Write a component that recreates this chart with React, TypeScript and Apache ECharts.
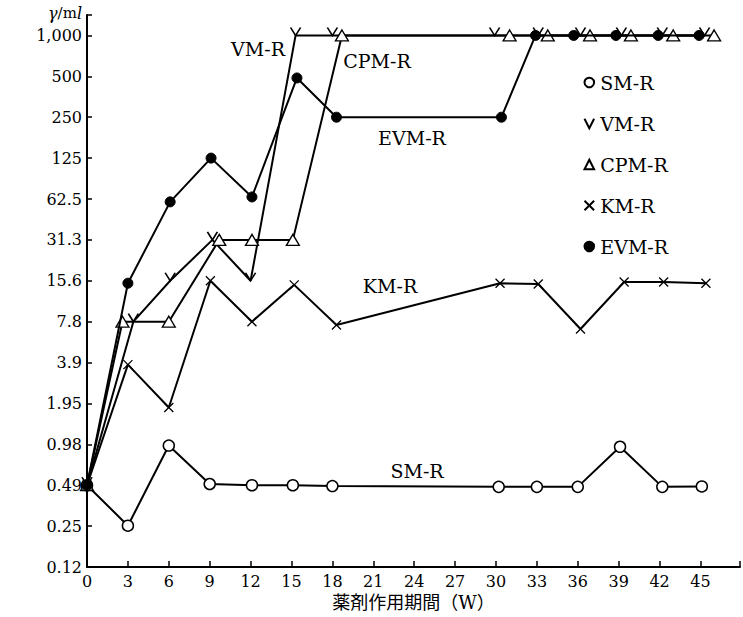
import React, { useEffect, useRef } from "react";
import * as echarts from "echarts";

// Doubling scale: index 0..13 on the y axis
const yTickLabels = ["0.12", "0.25", "0.49", "0.98", "1.95", "3.9", "7.8", "15.6", "31.3", "62.5", "125", "250", "500", "1,000"];

const seriesNames = ["SM-R", "VM-R", "CPM-R", "KM-R", "EVM-R"];

// weeks (x) and level index on the doubling scale (y)
const smWeeks = [0, 3, 6, 9, 12.1, 15.1, 18, 30.2, 33, 36, 39.1, 42.2, 45.1];
const smLevels = [2, 1.01, 2.97, 2.03, 2.0, 2.0, 1.98, 1.96, 1.96, 1.96, 2.94, 1.96, 1.97];

const vmWeeks = [0, 3.4, 6.1, 9.2, 12, 15.3, 18, 29.9, 33.1, 36.2, 39.2, 42.2, 45.3];
const vmLevels = [2, 6, 7, 8, 7, 13, 13, 13, 13, 13, 13, 13, 13];

const cpmWeeks = [0, 2.6, 6, 9.7, 12.1, 15.1, 18.7, 31, 33.8, 36.9, 39.9, 43, 46];
const cpmLevels = [2, 6, 6, 8, 8, 8, 13, 13, 13, 13, 13, 13, 13];

const kmWeeks = [0, 3.0, 6.0, 9.05, 12.1, 15.2, 18.3, 30.3, 33.1, 36.2, 39.4, 42.3, 45.4];
const kmLevels = [2, 4.95, 3.9, 7, 6, 6.9, 5.92, 6.94, 6.92, 5.82, 6.97, 6.97, 6.94];

const evmWeeks = [0, 3, 6.1, 9.1, 12.1, 15.4, 18.3, 30.4, 32.9, 35.7, 38.8, 41.9, 44.9];
const evmLevels = [2, 6.94, 8.93, 10, 9.05, 11.96, 11, 11, 13, 13, 13, 13, 13];

const pair = (xs: number[], ys: number[]) => xs.map((x, i) => [x, ys[i]]);

const SERIF = "'DejaVu Serif', 'Liberation Serif', 'Noto Sans CJK JP', serif";

export default function App() {
  const ref = useRef<HTMLDivElement>(null);
  useEffect(() => {
    if (!ref.current) return;
    const chart = echarts.init(ref.current, null, { renderer: "svg" });
    const baseLine = { color: "#000", width: 2 };
    const option: any = {
      animation: false,
      backgroundColor: "#fff",
      grid: { left: 87, right: 0, top: 15, bottom: 50 },
      xAxis: {
        type: "value",
        min: 0,
        max: 47.9,
        interval: 3,
        splitLine: { show: false },
        axisLine: { lineStyle: { color: "#000", width: 2 } },
        axisTick: { inside: true, length: 6, lineStyle: { color: "#000", width: 1.5 } },
        axisLabel: {
          color: "#000",
          fontFamily: SERIF,
          fontSize: 16,
          margin: 6,
          formatter: (v: number) => (v <= 45 ? String(v) : ""),
        },
        name: "薬剤作用期間（W）",
        nameLocation: "middle",
        nameGap: 25,
        nameTextStyle: { color: "#000", fontFamily: SERIF, fontSize: 18 },
      },
      yAxis: {
        type: "value",
        min: 0,
        max: 13.5,
        interval: 1,
        splitLine: { show: false },
        axisLine: { show: true, lineStyle: { color: "#000", width: 2 } },
        axisTick: { show: true, inside: true, length: 5, lineStyle: { color: "#000", width: 1.5 } },
        axisLabel: {
          color: "#000",
          fontFamily: SERIF,
          fontSize: 16,
          margin: 5,
          formatter: (v: number) => (Number.isInteger(v) && yTickLabels[v] !== undefined ? yTickLabels[v] : ""),
        },
      },
      legend: {
        orient: "vertical",
        left: 577,
        top: 67,
        itemWidth: 12,
        itemHeight: 12,
        itemGap: 20,
        itemTextGap: 8,
        selectedMode: false,
        lineStyle: { width: 0, color: "rgba(0,0,0,0)" },
        textStyle: { color: "#000", fontFamily: SERIF, fontSize: 19, lineHeight: 21 },
        data: seriesNames,
      },
      graphic: [
        {
          type: "text",
          x: 82,
          y: 13,
          style: {
            text: "{i|γ}/m{i|l}",
            textAlign: "right",
            textVerticalAlign: "middle",
            fill: "#000",
            font: `15px ${SERIF}`,
            rich: { i: { fontStyle: "italic", fontSize: 16, fontFamily: SERIF } },
          },
        },
        { type: "text", x: 258, y: 49, style: { text: "VM-R", textAlign: "center", textVerticalAlign: "middle", fill: "#000", font: `19px ${SERIF}` } },
        { type: "text", x: 377, y: 61, style: { text: "CPM-R", textAlign: "center", textVerticalAlign: "middle", fill: "#000", font: `19px ${SERIF}` } },
        { type: "text", x: 412, y: 138, style: { text: "EVM-R", textAlign: "center", textVerticalAlign: "middle", fill: "#000", font: `19px ${SERIF}` } },
        { type: "text", x: 390, y: 286, style: { text: "KM-R", textAlign: "center", textVerticalAlign: "middle", fill: "#000", font: `19px ${SERIF}` } },
        { type: "text", x: 417, y: 471, style: { text: "SM-R", textAlign: "center", textVerticalAlign: "middle", fill: "#000", font: `19px ${SERIF}` } },
      ],
      series: [
        {
          name: "SM-R",
          type: "line",
          data: pair(smWeeks, smLevels),
          symbol: "circle",
          symbolSize: 11,
          showAllSymbol: true,
          lineStyle: baseLine,
          itemStyle: { color: "#fff", borderColor: "#000", borderWidth: 1.5 },
          z: 2,
        },
        {
          name: "VM-R",
          type: "line",
          data: pair(vmWeeks, vmLevels),
          symbol: "path://M0,0L5,8L10,0",
          symbolSize: [10, 8],
          symbolOffset: [0, -4],
          showAllSymbol: true,
          lineStyle: baseLine,
          itemStyle: { color: "none", borderColor: "#000", borderWidth: 1.5 },
          z: 3,
        },
        {
          name: "CPM-R",
          type: "line",
          data: pair(cpmWeeks, cpmLevels),
          symbol: "triangle",
          symbolSize: [13, 11],
          showAllSymbol: true,
          lineStyle: baseLine,
          itemStyle: { color: "#fff", borderColor: "#000", borderWidth: 1.3 },
          z: 4,
        },
        {
          name: "KM-R",
          type: "line",
          data: pair(kmWeeks, kmLevels),
          symbol: "path://M0,0L10,10M10,0L0,10",
          symbolSize: 9,
          showAllSymbol: true,
          lineStyle: baseLine,
          itemStyle: { color: "none", borderColor: "#000", borderWidth: 1.3 },
          z: 5,
        },
        {
          name: "EVM-R",
          type: "line",
          data: pair(evmWeeks, evmLevels),
          symbol: "circle",
          symbolSize: 10,
          showAllSymbol: true,
          lineStyle: baseLine,
          itemStyle: { color: "#000", borderColor: "#000", borderWidth: 1 },
          z: 6,
        },
      ],
    };
    chart.setOption(option);
    return () => chart.dispose();
  }, []);
  return <div ref={ref} style={{ width: 743, height: 617, position: "absolute", left: 0, top: 0 }} />;
}
